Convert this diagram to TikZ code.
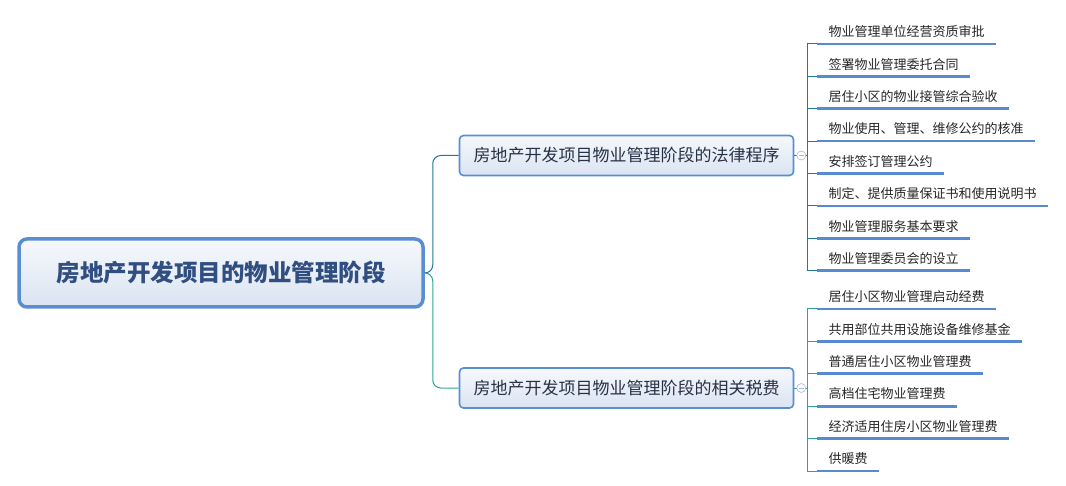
\documentclass[tikz,border=0pt]{standalone}
\usepackage{fontspec}
\setmainfont{Noto Sans CJK SC}
\usetikzlibrary{positioning}

\definecolor{boxline}{RGB}{90,142,210}
\definecolor{boxtop}{RGB}{246,248,252}
\definecolor{boxbot}{RGB}{218,228,242}
\definecolor{roottext}{RGB}{48,78,128}
\definecolor{midtext}{RGB}{40,50,70}
\definecolor{lawline}{RGB}{31,122,153}
\definecolor{taxline}{RGB}{42,168,142}
\definecolor{uline}{RGB}{88,138,210}
\definecolor{foldline}{RGB}{168,184,216}

\begin{document}
\begin{tikzpicture}[
  x=1pt, y=-1pt,
  rootbox/.style={draw=boxline,line width=3.5pt,rounded corners=8pt,
                  top color=boxtop,bottom color=boxbot,
                  minimum width=404pt,minimum height=68pt,
                  font=\fontsize{23.5}{28}\selectfont\bfseries,text=roottext},
  midbox/.style={draw=boxline,line width=1.6pt,rounded corners=4pt,
                 top color=boxtop,bottom color=boxbot,
                 minimum width=334pt,minimum height=40pt,
                 font=\fontsize{17}{20}\selectfont,text=midtext},
  leaf/.style={anchor=south west,inner xsep=11.5pt,inner ysep=5pt,
               text height=11pt,text depth=2pt,
               font=\fontsize{13}{15}\selectfont,text=black!85},
  fold/.style={circle,draw=foldline,fill=white,line width=0.6pt,
               minimum size=9pt,inner sep=0pt,
               path picture={\draw[foldline,line width=0.6pt]
                 ([xshift=-2.5pt]path picture bounding box.center) --
                 ([xshift=2.5pt]path picture bounding box.center);}},
  limbA/.style={draw=lawline,line width=1pt,rounded corners=8pt},
  limbB/.style={draw=taxline,line width=1pt,rounded corners=8pt},
  twigA/.style={draw=lawline,line width=1pt},
  twigB/.style={draw=taxline,line width=1pt},
  under/.style={draw=uline,line width=2.6pt}
]
\useasboundingbox (0,0) rectangle (1066,486);

\node[rootbox] (root) at (221,273) {房地产开发项目的物业管理阶段};

\node[midbox] (law) at (626.5,155.5) {房地产开发项目物业管理阶段的法律程序};
\node[midbox] (tax) at (626.5,388) {房地产开发项目物业管理阶段的相关税费};

% legal procedure leaves
\node[leaf] (a1) at (817,44) {物业管理单位经营资质审批};
\node[leaf,below=9pt of a1.south west,anchor=north west] (a2) {签署物业管理委托合同};
\node[leaf,below=9pt of a2.south west,anchor=north west] (a3) {居住小区的物业接管综合验收};
\node[leaf,below=9pt of a3.south west,anchor=north west] (a4) {物业使用、管理、维修公约的核准};
\node[leaf,below=9pt of a4.south west,anchor=north west] (a5) {安排签订管理公约};
\node[leaf,below=9pt of a5.south west,anchor=north west] (a6) {制定、提供质量保证书和使用说明书};
\node[leaf,below=9pt of a6.south west,anchor=north west] (a7) {物业管理服务基本要求};
\node[leaf,below=9pt of a7.south west,anchor=north west] (a8) {物业管理委员会的设立};

% tax leaves
\node[leaf] (b1) at (817,309) {居住小区物业管理启动经费};
\node[leaf,below=9pt of b1.south west,anchor=north west] (b2) {共用部位共用设施设备维修基金};
\node[leaf,below=9pt of b2.south west,anchor=north west] (b3) {普通居住小区物业管理费};
\node[leaf,below=9pt of b3.south west,anchor=north west] (b4) {高档住宅物业管理费};
\node[leaf,below=9pt of b4.south west,anchor=north west] (b5) {经济适用住房小区物业管理费};
\node[leaf,below=9pt of b5.south west,anchor=north west] (b6) {供暖费};

\draw[limbA] (root.east) -- ++(8,0) |- (law.west);
\draw[limbB] (root.east) -- ++(8,0) |- (tax.west);

\foreach \k in {1,...,8}{
  \draw[twigA] (law.east) -- ++(13,0) |- (a\k.south west);
  \draw[under] (a\k.south west) -- (a\k.south east);
}
\foreach \k in {1,...,6}{
  \draw[twigB] (tax.east) -- ++(13,0) |- (b\k.south west);
  \draw[under] (b\k.south west) -- (b\k.south east);
}

\node[fold] (f1) at ([xshift=7pt]law.east) {};
\node[fold] (f2) at ([xshift=7pt]tax.east) {};
\end{tikzpicture}
\end{document}
